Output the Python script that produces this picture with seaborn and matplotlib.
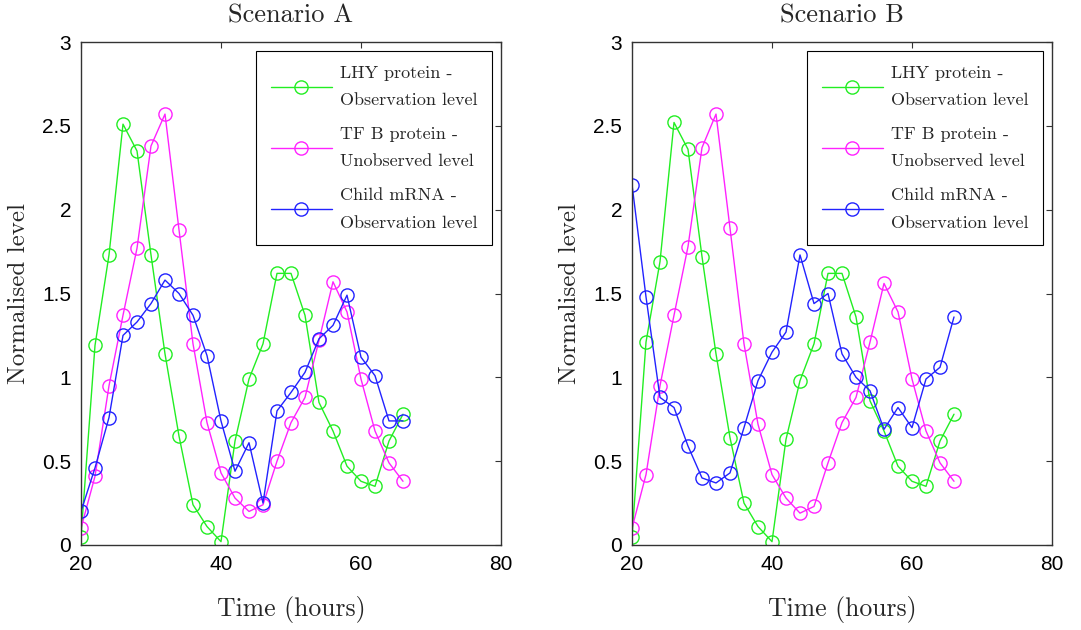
import numpy as np
import pandas as pd
import matplotlib
matplotlib.use("Agg")
import matplotlib.pyplot as plt
import seaborn as sns

time = list(range(20, 67, 2))

lhy_a = [0.05, 1.19, 1.73, 2.51, 2.35, 1.73, 1.14, 0.65, 0.24, 0.11, 0.02, 0.62,
         0.99, 1.20, 1.62, 1.62, 1.37, 0.85, 0.68, 0.47, 0.38, 0.35, 0.62, 0.78]
tfb_a = [0.10, 0.41, 0.95, 1.37, 1.77, 2.38, 2.57, 1.88, 1.20, 0.73, 0.43, 0.28,
         0.20, 0.24, 0.50, 0.73, 0.88, 1.22, 1.57, 1.39, 0.99, 0.68, 0.49, 0.38]
child_a = [0.20, 0.46, 0.76, 1.25, 1.33, 1.44, 1.58, 1.50, 1.37, 1.13, 0.74, 0.44,
           0.61, 0.25, 0.80, 0.91, 1.03, 1.23, 1.31, 1.49, 1.12, 1.01, 0.74, 0.74]

lhy_b = [0.05, 1.21, 1.69, 2.52, 2.36, 1.72, 1.14, 0.64, 0.25, 0.11, 0.02, 0.63,
         0.98, 1.20, 1.62, 1.62, 1.36, 0.86, 0.68, 0.47, 0.38, 0.35, 0.62, 0.78]
tfb_b = [0.10, 0.42, 0.95, 1.37, 1.78, 2.37, 2.57, 1.89, 1.20, 0.72, 0.42, 0.28,
         0.19, 0.23, 0.49, 0.73, 0.88, 1.21, 1.56, 1.39, 0.99, 0.68, 0.49, 0.38]
child_b = [2.15, 1.48, 0.88, 0.82, 0.59, 0.40, 0.37, 0.43, 0.70, 0.98, 1.15, 1.27,
           1.73, 1.44, 1.50, 1.14, 1.00, 0.92, 0.69, 0.82, 0.70, 0.99, 1.06, 1.36]

labels = ["LHY protein -\nObservation level",
          "TF B protein -\nUnobserved level",
          "Child mRNA -\nObservation level"]
titles = ["Scenario A", "Scenario B"]
colors = ["#22ee22", "#ff22ff", "#2222ff"]

sns.set_style("white")
plt.rcParams["font.family"] = ["Liberation Sans", "DejaVu Sans"]

serif = ["cmr10", "DejaVu Serif"]
spine_col = "#333333"

fig = plt.figure(figsize=(10.81, 6.30), dpi=100)
positions = [[81 / 1081, 85 / 630, 420 / 1081, 503 / 630],
             [632 / 1081, 85 / 630, 420 / 1081, 503 / 630]]
data = [(lhy_a, tfb_a, child_a), (lhy_b, tfb_b, child_b)]

for pos, title, series in zip(positions, titles, data):
    ax = fig.add_axes(pos)
    for vals, col, lab in zip(series, colors, labels):
        df = pd.DataFrame({"time": time, "level": vals})
        sns.lineplot(data=df, x="time", y="level", ax=ax, color=col, lw=1.0,
                     marker="o", markersize=9.5, markerfacecolor="none",
                     markeredgecolor=col, markeredgewidth=1.0, label=lab)
    ax.set_xlim(20, 80)
    ax.set_ylim(0, 3)
    ax.set_xticks([20, 40, 60, 80])
    ax.set_yticks([0, 0.5, 1, 1.5, 2, 2.5, 3])
    ax.set_yticklabels(["0", "0.5", "1", "1.5", "2", "2.5", "3"])
    ax.tick_params(direction="in", length=4, width=0.8, colors=spine_col,
                   labelcolor="black", labelsize=15, top=True, right=True, pad=7)
    for s in ax.spines.values():
        s.set_color(spine_col)
        s.set_linewidth(1.0)
    ax.set_title(title, fontsize=19, family=serif, pad=14)
    ax.set_xlabel("Time (hours)", fontsize=18.5, family=serif, labelpad=16)
    ax.set_ylabel("Normalised level", fontsize=18, family=serif, labelpad=9)
    leg = ax.legend(loc="upper right", prop={"family": serif, "size": 13},
                    handlelength=3.4, handletextpad=0.45, labelspacing=1.0,
                    borderpad=0.8, fancybox=False, framealpha=1,
                    edgecolor="black", borderaxespad=0.5)
    for t in leg.get_texts():
        t.set_linespacing(2.0)
    leg.get_frame().set_linewidth(0.8)

fig.savefig("out.png", dpi=100)
